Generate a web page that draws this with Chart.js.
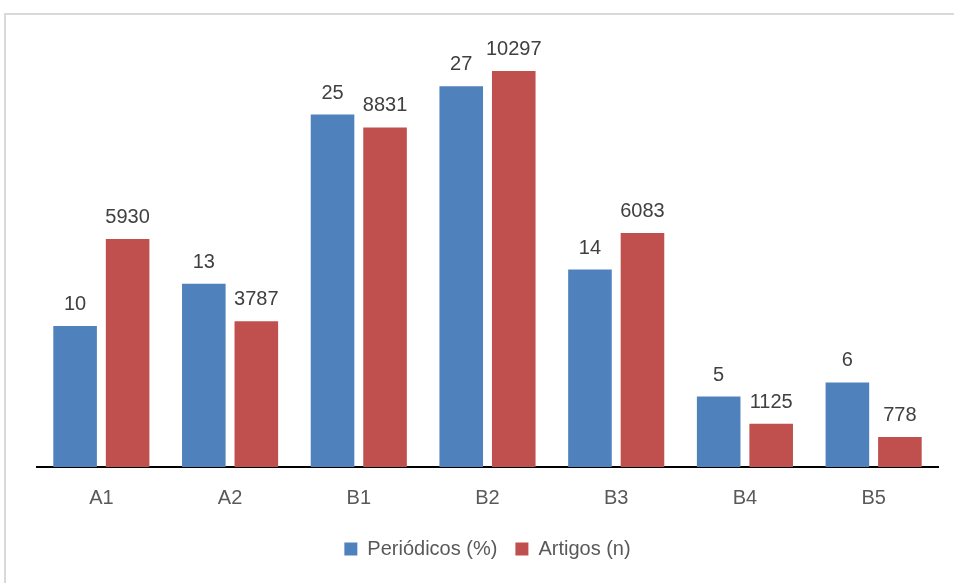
<!DOCTYPE html>
<html>
<head>
<meta charset="utf-8">
<script src="https://cdn.jsdelivr.net/npm/chart.js@4"></script>
<style>
  body { margin: 0; background: #fff; }
  #box { position: absolute; left: 4px; top: 13px; width: 970px; height: 600px; border: 2px solid #d9d9d9; }
  #wrap { position: absolute; left: 0; top: 0; width: 954px; height: 583px; }
</style>
</head>
<body>
<div id="box"></div>
<div id="wrap"><canvas id="myChart"></canvas></div>
<script>
'use strict';

var categories = ['A1', 'A2', 'B1', 'B2', 'B3', 'B4', 'B5'];
var periodicos = [10, 13, 25, 27, 14, 5, 6];
var artigos = [5930, 3787, 8831, 10297, 6083, 1125, 778];

var blue = '#4F81BD';
var red = '#C0504D';

// little plugin that writes the value on top of each bar
var barLabels = {
    id: 'barLabels',
    afterDatasetsDraw: function(chart){
        var ctx = chart.ctx;
        ctx.save();
        ctx.font = '20px "Liberation Sans", Arial, sans-serif';
        ctx.fillStyle = '#404040';
        ctx.textAlign = 'center';
        ctx.textBaseline = 'alphabetic';
        chart.data.datasets.forEach(function(ds, i){
            var meta = chart.getDatasetMeta(i);
            meta.data.forEach(function(bar, j){
                ctx.fillText(ds.data[j], bar.x, bar.y - 16);
            });
        });
        ctx.restore();
    }
};

var ctx = document.getElementById('myChart').getContext('2d');
var chart = new Chart(ctx, {
    type: 'bar',
    data: {
        labels: categories,
        datasets: [{
            label: 'Periódicos (%)',
            backgroundColor: blue,
            data: periodicos,
            yAxisID: 'y'
        },
        {
            label: 'Artigos (n)',
            backgroundColor: red,
            data: artigos,
            yAxisID: 'y1'
        }]
    },
    options: {
        responsive: true,
        maintainAspectRatio: false,
        animation: false,
        categoryPercentage: 0.816,
        barPercentage: 0.83,
        layout: { padding: { left: 37, right: 16, top: 44, bottom: 14 } },
        scales: {
            x: {
                grid: { display: false },
                border: { display: true, color: '#000', width: 2 },
                ticks: {
                    color: '#595959',
                    padding: 11,
                    font: { family: '"Liberation Sans", Arial, sans-serif', size: 20 }
                }
            },
            y: { display: false, min: 0, max: 30 },
            y1: { display: false, min: 0, max: 11000 }
        },
        plugins: {
            legend: {
                position: 'bottom',
                labels: {
                    color: '#595959',
                    boxWidth: 13,
                    boxHeight: 13,
                    padding: 18,
                    font: { family: '"Liberation Sans", Arial, sans-serif', size: 20 }
                }
            },
            tooltip: { enabled: false }
        }
    },
    plugins: [barLabels]
});
</script>
</body>
</html>
